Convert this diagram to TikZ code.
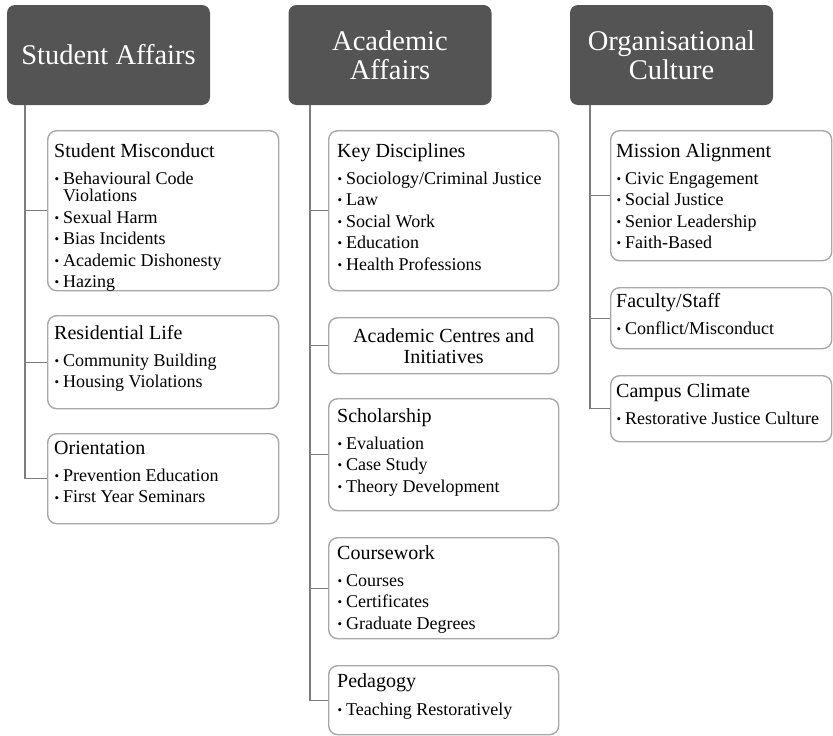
\documentclass[tikz,border=0pt]{standalone}
\usepackage{fontspec}
\setmainfont{Liberation Serif}
\definecolor{headfill}{RGB}{84,84,84}
\definecolor{boxline}{RGB}{168,168,168}
\definecolor{linkline}{RGB}{125,125,125}
% bullet for list entries
\newcommand\bul{\makebox[9pt][l]{\hspace{0.5pt}\raisebox{0.8pt}{\fontsize{13}{13}\selectfont •}}}
\newcommand\cardtitle[1]{{\fontsize{20}{22}\selectfont #1}}
\newcommand\contline{\hspace{9pt}}
\begin{document}
\begin{tikzpicture}[x=1pt,y=-1pt,
  head/.style={fill=headfill, rounded corners=8pt, text=white,
    font=\fontsize{28.5}{29}\selectfont, align=center,
    minimum width=203pt, minimum height=100pt, inner sep=0pt},
  card/.style={draw=boxline, line width=1.4pt, fill=white,
    rounded corners=9pt, inner sep=0pt, anchor=north west},
  cardtext/.style={anchor=north west, inner sep=0pt, align=left,
    font=\fontsize{18}{21.5}\selectfont},
  link/.style={draw=linkline, line width=1.1pt}]
\useasboundingbox (0,0) rectangle (833,736);

% column headers
\node[head] (sa) at (108.5,55) {Student Affairs};
\node[head] (aa) at (390,55) {Academic\\Affairs};
\node[head] (oc) at (671.5,55) {Organisational\\Culture};

% trunk starts under each header
\coordinate (sa-trunk) at (25,105);
\coordinate (aa-trunk) at (310,105);
\coordinate (oc-trunk) at (590,105);

% ---- Student Affairs ----
\node[card, minimum width=231pt, minimum height=160pt] (sm) at (47,130) {};
\node[cardtext] (sm-t) at (54,143) {\cardtitle{Student Misconduct}\\[5.5pt]
  \bul Behavioural Code\\[-4pt]
  \contline Violations\\
  \bul Sexual Harm\\
  \bul Bias Incidents\\
  \bul Academic Dishonesty\\
  \bul Hazing};

\node[card, minimum width=231pt, minimum height=93pt] (rl) at (47,315) {};
\node[cardtext] (rl-t) at (54,325) {\cardtitle{Residential Life}\\[5.5pt]
  \bul Community Building\\
  \bul Housing Violations};

\node[card, minimum width=231pt, minimum height=90pt] (or) at (47,433) {};
\node[cardtext] (or-t) at (54,441) {\cardtitle{Orientation}\\[5.5pt]
  \bul Prevention Education\\
  \bul First Year Seminars};

% ---- Academic Affairs ----
\node[card, minimum width=230pt, minimum height=160pt] (kd) at (328,130) {};
\node[cardtext] (kd-t) at (337,143) {\cardtitle{Key Disciplines}\\[5.5pt]
  \bul Sociology/Criminal Justice\\
  \bul Law\\
  \bul Social Work\\
  \bul Education\\
  \bul Health Professions};

\node[card, minimum width=230pt, minimum height=56pt] (ac) at (328,317) {};
\node[align=center, inner sep=0pt, font=\fontsize{20}{21}\selectfont] (ac-t)
  at (ac.center) {Academic Centres and\\Initiatives};

\node[card, minimum width=230pt, minimum height=112pt] (sc) at (328,398) {};
\node[cardtext] (sc-t) at (337,408) {\cardtitle{Scholarship}\\[5.5pt]
  \bul Evaluation\\
  \bul Case Study\\
  \bul Theory Development};

\node[card, minimum width=230pt, minimum height=101pt] (cw) at (328,537) {};
\node[cardtext] (cw-t) at (337,545) {\cardtitle{Coursework}\\[5.5pt]
  \bul Courses\\
  \bul Certificates\\
  \bul Graduate Degrees};

\node[card, minimum width=230pt, minimum height=69pt] (pe) at (328,665) {};
\node[cardtext] (pe-t) at (337,673) {\cardtitle{Pedagogy}\\[7pt]
  \bul Teaching Restoratively};

% ---- Organisational Culture ----
\node[card, minimum width=221pt, minimum height=130pt] (ma) at (610,130) {};
\node[cardtext] (ma-t) at (616,143) {\cardtitle{Mission Alignment}\\[5.5pt]
  \bul Civic Engagement\\
  \bul Social Justice\\
  \bul Senior Leadership\\
  \bul Faith-Based};

\node[card, minimum width=221pt, minimum height=61pt] (fs) at (610,287) {};
\node[cardtext] (fs-t) at (616,293) {\cardtitle{Faculty/Staff}\\[5.5pt]
  \bul Conflict/Misconduct};

\node[card, minimum width=221pt, minimum height=66pt] (cc) at (610,375) {};
\node[cardtext] (cc-t) at (616,383) {\cardtitle{Campus Climate}\\[5.5pt]
  \bul Restorative Justice Culture};

% connectors from each trunk to its cards
\foreach \c in {sm,rl,or} \draw[link] (sa-trunk) |- (\c.west);
\foreach \c in {kd,ac,sc,cw,pe} \draw[link] (aa-trunk) |- (\c.west);
\foreach \c in {ma,fs,cc} \draw[link] (oc-trunk) |- (\c.west);
\end{tikzpicture}
\end{document}
